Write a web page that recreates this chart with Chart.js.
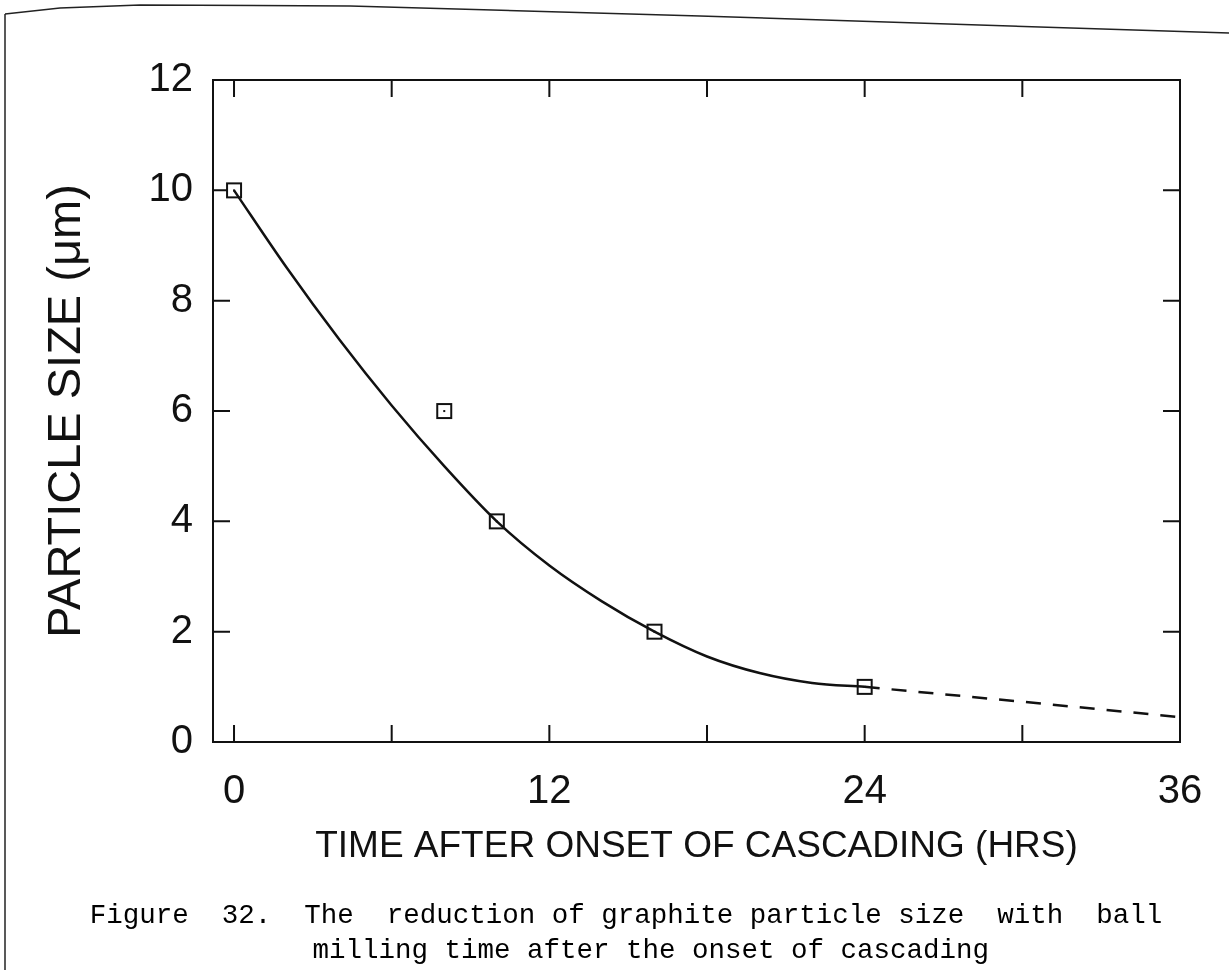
<!DOCTYPE html>
<html>
<head>
<meta charset="utf-8">
<title>Graphite particle size vs ball milling time</title>
<script src="https://cdn.jsdelivr.net/npm/chart.js@4"></script>
<style>
  html, body { margin: 0; padding: 0; background: #fff; }
  #wrap { position: relative; width: 1229px; height: 970px; }
  #edge { position: absolute; left: 0; top: 0; pointer-events: none; }
</style>
</head>
<body>
<div id="wrap">
  <canvas id="grafico" width="1229" height="970"></canvas>
  <!-- paper edge -->
  <svg id="edge" width="1229" height="970">
    <polyline points="5,14 60,8 140,5 350,6 700,16 1229,33" fill="none" stroke="#222" stroke-width="1.5"/>
    <polyline points="5,14 5,970" fill="none" stroke="#222" stroke-width="1.5"/>
  </svg>
</div>
<script>
// measured points
const hours = [0, 8, 10, 16, 24];
const particleSize = [10, 6, 4, 2, 1];

// fitted curve (solid) and its extrapolation (dashed)
const fitHours = [0, 2, 4, 6, 8, 10, 12, 14, 16, 18, 20, 22, 24];
const fitSize = [10.0, 8.6, 7.3, 6.1, 5.0, 4.0, 3.2, 2.55, 2.0, 1.55, 1.25, 1.07, 1.0];
const extraHours = [24, 30, 36];
const extraSize = [1.0, 0.73, 0.45];

// axis ticks
const xTickValues = [0, 6, 12, 18, 24, 30, 36];
const xLabelValues = [0, 12, 24, 36];
const yTickValues = [0, 2, 4, 6, 8, 10, 12];

const ink = '#111';
const tickLen = 17;

function pts(xs, ys) {
  return xs.map((v, i) => ({ x: v, y: ys[i] }));
}

// square marker with a dot in the middle
function boxMarker() {
  const c = document.createElement('canvas');
  c.width = 18; c.height = 18;
  const g = c.getContext('2d');
  g.fillStyle = '#fff';
  g.fillRect(1, 1, 16, 16);
  g.strokeStyle = ink;
  g.lineWidth = 2;
  g.strokeRect(2, 2, 14, 14);
  g.fillStyle = ink;
  g.fillRect(8, 8, 2, 2);
  return c;
}

// box frame with inward tick marks on all four sides
const frameTicks = {
  id: 'frameTicks',
  beforeDatasetsDraw(chart) {
    const { ctx, chartArea: a, scales: { x, y } } = chart;
    ctx.save();
    ctx.strokeStyle = ink;
    ctx.lineWidth = 2;
    ctx.strokeRect(a.left, a.top, a.right - a.left, a.bottom - a.top);
    ctx.beginPath();
    xTickValues.forEach(v => {
      const px = x.getPixelForValue(v);
      ctx.moveTo(px, a.bottom); ctx.lineTo(px, a.bottom - tickLen);
      ctx.moveTo(px, a.top); ctx.lineTo(px, a.top + tickLen);
    });
    yTickValues.forEach(v => {
      const py = y.getPixelForValue(v);
      ctx.moveTo(a.left, py); ctx.lineTo(a.left + tickLen, py);
      ctx.moveTo(a.right, py); ctx.lineTo(a.right - tickLen, py);
    });
    ctx.stroke();
    ctx.restore();
  }
};

Chart.defaults.font.family = "'Liberation Sans', Arial, sans-serif";
Chart.defaults.color = '#111';

const ctx = document.getElementById('grafico').getContext('2d');
new Chart(ctx, {
  type: 'scatter',
  data: {
    datasets: [{
      label: 'fit',
      data: pts(fitHours, fitSize),
      showLine: true,
      borderColor: ink,
      borderWidth: 2.5,
      pointRadius: 0,
      cubicInterpolationMode: 'monotone',
      fill: false
    }, {
      label: 'extrapolation',
      data: pts(extraHours, extraSize),
      showLine: true,
      borderColor: ink,
      borderWidth: 2.5,
      borderDash: [15, 12],
      pointRadius: 0,
      fill: false
    }, {
      label: 'measured',
      data: pts(hours, particleSize),
      showLine: false,
      pointStyle: boxMarker(),
      pointRadius: 9
    }]
  },
  options: {
    responsive: false,
    animation: false,
    devicePixelRatio: 1,
    layout: { padding: { left: 23, right: 0, top: 80, bottom: 1.5 } },
    plugins: {
      legend: { display: false },
      tooltip: { enabled: false },
      title: {
        display: true,
        position: 'bottom',
        text: [
          'Figure  32.  The  reduction of graphite particle size  with  ball',
          '   milling time after the onset of cascading'
        ],
        font: { family: "'Liberation Mono', 'Courier New', monospace", size: 27.5, weight: 'normal', lineHeight: 1.2727 },
        color: '#000',
        padding: { top: 26.5, bottom: 0 }
      }
    },
    scales: {
      x: {
        type: 'linear',
        min: -0.8,
        max: 36,
        grid: { display: false, drawTicks: false },
        border: { display: false },
        afterBuildTicks: s => { s.ticks = xTickValues.map(v => ({ value: v })); },
        afterFit: s => { s.height = 130; s.paddingLeft = 0; s.paddingRight = 49; },
        ticks: {
          autoSkip: false,
          maxRotation: 0,
          padding: 26,
          font: { size: 40 },
          callback: v => xLabelValues.includes(v) ? String(v) : ''
        },
        title: {
          display: true,
          text: 'TIME AFTER ONSET OF CASCADING (HRS)',
          font: { size: 37 },
          padding: { top: 0, bottom: 3 }
        }
      },
      y: {
        min: 0,
        max: 12,
        grid: { display: false, drawTicks: false },
        border: { display: false },
        afterBuildTicks: s => { s.ticks = yTickValues.map(v => ({ value: v })); },
        afterFit: s => { s.width = 190; },
        ticks: {
          padding: 20,
          font: { size: 40 }
        },
        title: {
          display: true,
          text: 'PARTICLE SIZE (μm)',
          font: { size: 47 },
          padding: { top: 16, bottom: 0 }
        }
      }
    }
  },
  plugins: [frameTicks]
});
</script>
</body>
</html>
